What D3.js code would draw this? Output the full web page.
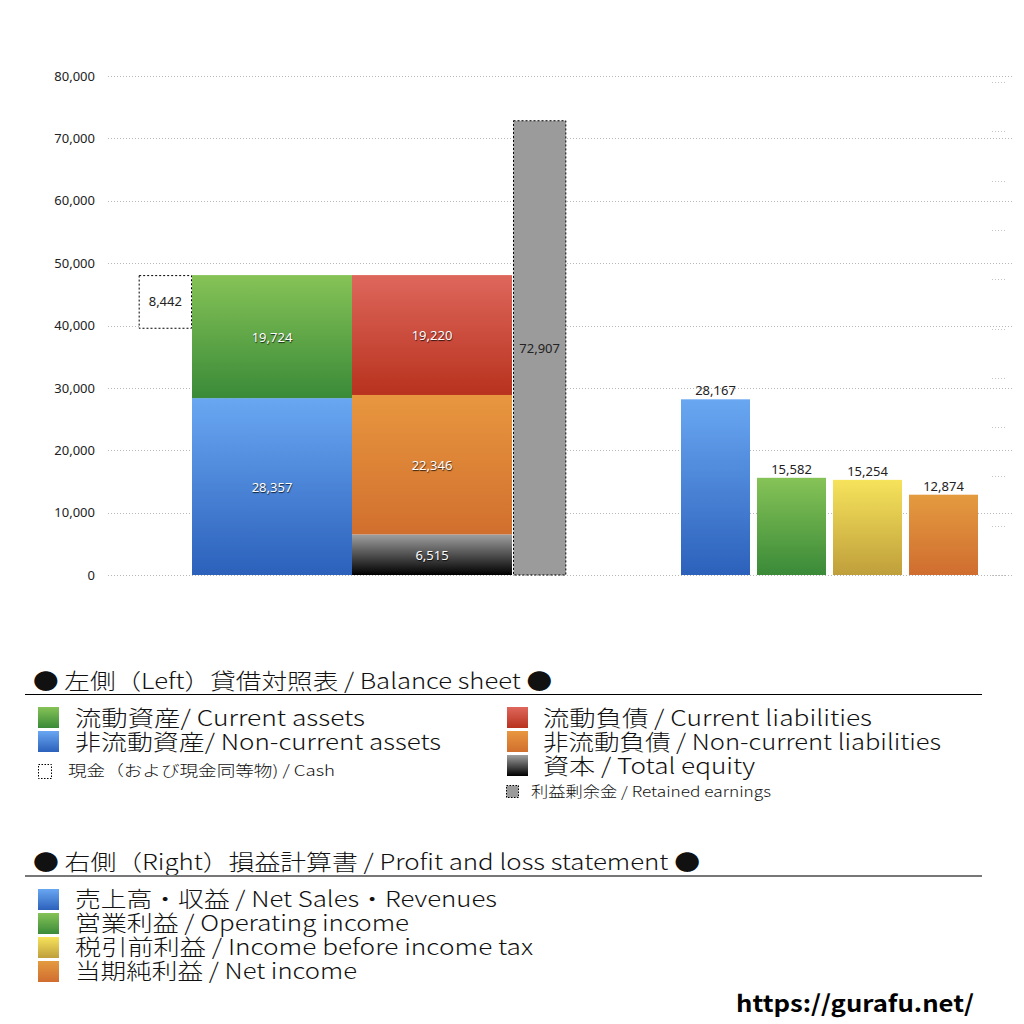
<!DOCTYPE html>
<html><head><meta charset="utf-8">
<script src="https://cdn.jsdelivr.net/npm/d3@7/dist/d3.min.js"></script>
<style>
html,body{margin:0;padding:0;background:#fff;}
svg{display:block;}
</style></head>
<body>
<svg id="chart" width="1024" height="1024"></svg>
<script>
// ---------- data ----------
const yTicks = [0, 10000, 20000, 30000, 40000, 50000, 60000, 70000, 80000];
const secondaryTicks = [0, 1, 2, 3, 4, 5, 6, 7, 8, 9, 10];
const bsColumns = ["assets", "liabilities"];
const assetNames = ["非流動資産", "流動資産"];          // bottom -> top
const assetValues = [28357, 19724];
const liabNames = ["資本", "非流動負債", "流動負債"];   // bottom -> top
const liabValues = [6515, 22346, 19220];
const cashValue = 8442;
const retainedValue = 72907;
const plCategories = ["売上高・収益", "営業利益", "税引前利益", "当期純利益"];
const plValues = [28167, 15582, 15254, 12874];

const leftTitle = "● 左側（Left）貸借対照表 / Balance sheet ●";
const leftLegendA = ["流動資産/ Current assets", "非流動資産/ Non-current assets"];
const leftLegendB = ["流動負債 /  Current liabilities", "非流動負債 / Non-current liabilities", "資本 / Total equity"];
const cashLegend = "現金（および現金同等物) / Cash";
const retainedLegend = "利益剰余金 / Retained earnings";
const rightTitle = "● 右側（Right）損益計算書 / Profit and loss statement ●";
const rightLegend = ["売上高・収益 / Net Sales・Revenues", "営業利益 / Operating income", "税引前利益 / Income before income tax", "当期純利益 / Net income"];
const siteUrl = "https://gurafu.net/";

// ---------- styles ----------
const grads = {
  green: ["#86c357", "#3a8a38"],
  blue: ["#69a7f2", "#2c61bb"],
  red: ["#de675c", "#b8321e"],
  orange: ["#e8973f", "#d16f2e"],
  equity: ["#a0a0a0", "#000000"],
  yellow: ["#f6e35b", "#bf9f3b"],
  orange2: ["#e49b3f", "#d06d30"]
};
const assetColors = ["blue", "green"];
const liabColors = ["equity", "orange", "red"];
const plColors = ["blue", "green", "yellow", "orange2"];

const svg = d3.select("#chart");
const defs = svg.append("defs");
Object.entries(grads).forEach(([k, c]) => {
  const g = defs.append("linearGradient").attr("id", "g-" + k)
    .attr("x1", 0).attr("y1", 0).attr("x2", 0).attr("y2", 1);
  g.append("stop").attr("offset", "0%").attr("stop-color", c[0]);
  g.append("stop").attr("offset", "100%").attr("stop-color", c[1]);
});

const numFont = "'Noto Sans', Lato, sans-serif";
const jpFont = "'Noto Sans CJK JP', 'Noto Sans', sans-serif";
const fmt = d3.format(",");
const numSize = 13;

// ---------- scales ----------
const y = d3.scaleLinear().domain([0, 80000]).range([575, 76]);
const y2 = d3.scaleLinear().domain([0, 10]).range([575, 82]);
const xBS = d3.scaleBand().domain(bsColumns).range([192, 512]).padding(0);
const xPL = d3.scaleBand().domain(plCategories).range([677.5, 981.5]).paddingInner(0.092).paddingOuter(0.046);

// ---------- grid ----------
const grid = svg.append("g");
grid.selectAll("line.g").data(yTicks).join("line")
  .attr("x1", 108).attr("x2", 1012)
  .attr("y1", d => Math.round(y(d)) + 0.5).attr("y2", d => Math.round(y(d)) + 0.5)
  .attr("stroke", "#b8b8b8").attr("stroke-width", 1).attr("stroke-dasharray", "1,2");
grid.selectAll("line.s").data(secondaryTicks).join("line")
  .attr("x1", 992).attr("x2", 1007)
  .attr("y1", d => Math.round(y2(d)) + 0.5).attr("y2", d => Math.round(y2(d)) + 0.5)
  .attr("stroke", "#c4c4c4").attr("stroke-width", 1).attr("stroke-dasharray", "1,2");

const axis = d3.axisLeft(y).tickValues(yTicks).tickFormat(fmt).tickSize(0).tickPadding(0);
const ag = svg.append("g").attr("transform", "translate(95,0)").call(axis);
ag.select(".domain").remove();
ag.selectAll("text").attr("font-family", numFont).attr("font-size", numSize).attr("fill", "#222");

// ---------- balance sheet ----------
const bw = xBS.bandwidth();
function stack(vals) { let s = 0; return vals.map(v => { const o = [s, s + v]; s += v; return o; }); }
const aStack = stack(assetValues);
const lStack = stack(liabValues);

const bs = svg.append("g");
bs.selectAll("rect.a").data(aStack).join("rect")
  .attr("x", xBS("assets")).attr("width", bw)
  .attr("y", d => y(d[1])).attr("height", d => y(d[0]) - y(d[1]))
  .attr("fill", (d, i) => `url(#g-${assetColors[i]})`);
bs.selectAll("rect.l").data(lStack).join("rect")
  .attr("x", xBS("liabilities")).attr("width", bw)
  .attr("y", d => y(d[1])).attr("height", d => y(d[0]) - y(d[1]))
  .attr("fill", (d, i) => `url(#g-${liabColors[i]})`);

// cash box (hangs from top of total assets)
const totalAssets = d3.sum(assetValues);
const cashW = bw / 3;
bs.append("rect")
  .attr("x", xBS("assets") - cashW + 0.5).attr("width", cashW - 1)
  .attr("y", y(totalAssets) + 0.5).attr("height", y(0) - y(cashValue))
  .attr("fill", "#fff").attr("stroke", "#000").attr("stroke-width", 1).attr("stroke-dasharray", "2,2");
// retained earnings
bs.append("rect")
  .attr("x", xBS("liabilities") + bw + 1.5).attr("width", cashW - 1)
  .attr("y", y(retainedValue) + 0.5).attr("height", y(0) - y(retainedValue) - 0.5)
  .attr("fill", "#9b9b9b").attr("stroke", "#000").attr("stroke-width", 1).attr("stroke-dasharray", "2,2");

// labels
function whiteLabel(g, x, yy, t) {
  g.append("text").attr("x", x).attr("y", yy).attr("text-anchor", "middle").attr("dominant-baseline", "central")
    .attr("font-family", numFont).attr("font-size", numSize).attr("fill", "#fff")
    .style("text-shadow", "0.5px 1px 1px rgba(0,0,0,0.75)").text(t);
}
aStack.forEach((d, i) => whiteLabel(bs, xBS("assets") + bw / 2, (y(d[0]) + y(d[1])) / 2, fmt(assetValues[i])));
lStack.forEach((d, i) => whiteLabel(bs, xBS("liabilities") + bw / 2, (y(d[0]) + y(d[1])) / 2, fmt(liabValues[i])));
bs.append("text").attr("x", xBS("assets") - cashW / 2).attr("y", y(totalAssets) + (y(0) - y(cashValue)) / 2)
  .attr("text-anchor", "middle").attr("dominant-baseline", "central")
  .attr("font-family", numFont).attr("font-size", numSize).attr("fill", "#222").text(fmt(cashValue));
bs.append("text").attr("x", xBS("liabilities") + bw + 1 + cashW / 2).attr("y", (y(0) + y(retainedValue)) / 2)
  .attr("text-anchor", "middle").attr("dominant-baseline", "central")
  .attr("font-family", numFont).attr("font-size", numSize).attr("fill", "#222").text(fmt(retainedValue));

// ---------- P&L ----------
const pl = svg.append("g");
pl.selectAll("rect").data(plValues).join("rect")
  .attr("x", (d, i) => xPL(plCategories[i])).attr("width", xPL.bandwidth())
  .attr("y", d => y(d)).attr("height", d => y(0) - y(d))
  .attr("fill", (d, i) => `url(#g-${plColors[i]})`);
pl.selectAll("text").data(plValues).join("text")
  .attr("x", (d, i) => xPL(plCategories[i]) + xPL.bandwidth() / 2).attr("y", d => y(d) - 4)
  .attr("text-anchor", "middle").attr("font-family", numFont).attr("font-size", numSize).attr("fill", "#222")
  .text(d => fmt(d));

// ---------- legends ----------
const lg = svg.append("g");
function fitText(x, yy, t, size, w, extra) {
  const el = lg.append("text").attr("x", x).attr("y", yy).attr("font-family", jpFont)
    .attr("font-size", size).attr("font-weight", 300).attr("fill", "#111").text(t);
  if (extra) extra(el);
  if (w) el.attr("textLength", w).attr("lengthAdjust", "spacingAndGlyphs");
  return el;
}
function swatch(x, yy, w, h, fill, dotted) {
  const r = lg.append("rect").attr("x", x).attr("y", yy).attr("width", w).attr("height", h).attr("fill", fill);
  if (dotted) r.attr("stroke", "#000").attr("stroke-width", 1).attr("stroke-dasharray", "1.5,1.5");
}

// left title
fitText(33, 689, leftTitle, 22, 519);
lg.append("line").attr("x1", 25).attr("x2", 982).attr("y1", 694.5).attr("y2", 694.5).attr("stroke", "#000").attr("stroke-width", 1);

const leftAColors = ["green", "blue"];
leftLegendA.forEach((t, i) => {
  swatch(38, 707 + i * 24, 21, 21, `url(#g-${leftAColors[i]})`);
  fitText(75, 726 + i * 24, t, 22, [290, 366][i]);
});
swatch(38.5, 764.5, 13, 14, "#fff", true);
fitText(68, 776, cashLegend, 15, 267);

const leftBColors = ["red", "orange", "equity"];
leftLegendB.forEach((t, i) => {
  swatch(507, 707 + i * 24, 21, 21, `url(#g-${leftBColors[i]})`);
  fitText(543, 726 + i * 24, t, 22, [329, 398, 212][i]);
});
swatch(506.5, 785.5, 12, 12, "#9b9b9b", true);
fitText(531, 797, retainedLegend, 14.5, 240);

// right title
fitText(33, 870, rightTitle, 22, 667);
lg.append("line").attr("x1", 25).attr("x2", 982).attr("y1", 876).attr("y2", 876).attr("stroke", "#777").attr("stroke-width", 2);

rightLegend.forEach((t, i) => {
  swatch(38, 889 + i * 24, 21, 21, `url(#g-${plColors[i]})`);
  fitText(75, 907 + i * 24, t, 22, [422, 334, 458, 282][i]);
});

fitText(736, 1012, siteUrl, 23, 238, el => el.attr("font-weight", "bold").attr("fill", "#000"));
</script>
</body></html>
